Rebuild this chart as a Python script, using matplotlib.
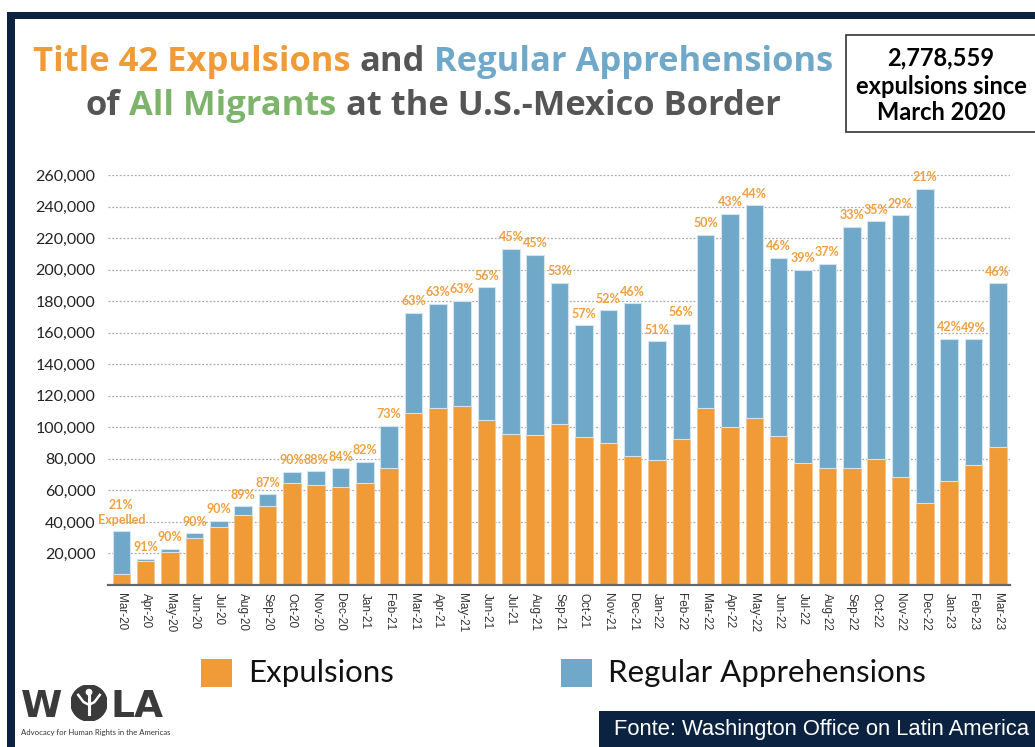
import matplotlib
matplotlib.use("Agg")
import matplotlib.pyplot as plt
from matplotlib.patches import Rectangle, Circle

# monthly CBP figures, Mar 2020 - Mar 2023
months = ["Mar-20", "Apr-20", "May-20", "Jun-20", "Jul-20", "Aug-20", "Sep-20",
          "Oct-20", "Nov-20", "Dec-20", "Jan-21", "Feb-21", "Mar-21", "Apr-21",
          "May-21", "Jun-21", "Jul-21", "Aug-21", "Sep-21", "Oct-21", "Nov-21",
          "Dec-21", "Jan-22", "Feb-22", "Mar-22", "Apr-22", "May-22", "Jun-22",
          "Jul-22", "Aug-22", "Sep-22", "Oct-22", "Nov-22", "Dec-22", "Jan-23",
          "Feb-23", "Mar-23"]
expulsions = [7280, 15300, 20800, 29500, 36700, 44400, 50000,
              64700, 63300, 62200, 64400, 73900, 109100, 112500,
              113400, 104900, 96000, 95200, 102400, 94100, 90100,
              82100, 79000, 92900, 112100, 100300, 105800, 94800,
              77500, 74500, 74500, 80000, 68800, 51700, 66100,
              75800, 87600]
regular = [26750, 1500, 2300, 3300, 4100, 5500, 7500,
           7200, 8700, 11700, 13900, 27200, 63700, 65800,
           67000, 83900, 117300, 114300, 89400, 70500, 84200,
           96600, 75500, 72700, 110100, 135200, 135100, 112600,
           122300, 129100, 152700, 150600, 165600, 199600, 90000,
           79900, 103800]
yticks = list(range(20000, 260001, 20000))
total_expelled = "2,778,559"

ORANGE = "#F09A38"
BLUE = "#6FA8C8"
GREEN = "#7DB46C"
GRAY = "#555555"
NAVY = "#0B2340"
LABEL = "#F0A040"

W, H = 1035, 747
fig = plt.figure(figsize=(W / 100, H / 100), dpi=100)
fig.patch.set_facecolor("white")


def fx(x):
    return x / W


def fy(y):
    return 1 - y / H


# navy frame on the top and left edges
fig.add_artist(Rectangle((fx(7), fy(19)), fx(W - 7), 7 / H, transform=fig.transFigure,
                         color=NAVY, lw=0))
fig.add_artist(Rectangle((fx(7), 0), 8 / W, fy(12), transform=fig.transFigure,
                         color=NAVY, lw=0))

# --- bars ---
ax = fig.add_axes([fx(108), fy(585), fx(1010) - fx(108), fy(175) - fy(585)])
x = list(range(len(months)))
ax.bar(x, expulsions, width=0.72, color=ORANGE, edgecolor="#F5C48C", lw=0.6, zorder=3)
ax.bar(x, regular, bottom=expulsions, width=0.72, color=BLUE, edgecolor="#D3E4EE",
       lw=0.8, zorder=3)

for i, (e, r) in enumerate(zip(expulsions, regular)):
    pct = "%d%%" % round(100 * e / (e + r))
    if i == 0:
        pct += "\nExpelled"
    ax.annotate(pct, (i, e + r), xytext=(0, 4), textcoords="offset points",
                ha="center", va="bottom", color=LABEL, fontsize=9,
                fontweight="bold", family="Lato", linespacing=1.3,
                annotation_clip=False)

ax.set_xlim(-0.55, len(months) - 0.5)
ax.set_ylim(0, 260000)
ax.set_yticks(yticks)
ax.set_yticklabels(["{:,}".format(v) for v in yticks], family="Lato", fontsize=11.5,
                   color="#222222")
ax.set_xticks(x)
ax.set_xticklabels(months, rotation=270, family="Liberation Sans", fontsize=8.5,
                   color="#333333", ha="center", va="top")
ax.tick_params(axis="both", length=0)
ax.tick_params(axis="y", pad=9)
ax.tick_params(axis="x", pad=6)
ax.grid(axis="y", color="#AAAAAA", lw=0.9, ls=(0, (1.5, 1.5)), zorder=0)
for s in ("top", "right", "left"):
    ax.spines[s].set_visible(False)
ax.spines["bottom"].set_color("#666666")
ax.spines["bottom"].set_linewidth(1.6)
ax.spines["bottom"].set_zorder(4)

# --- title in coloured pieces ---
renderer = fig.canvas.get_renderer()
TITLE_FONT = "Open Sans"


def piece_widths(pieces, size):
    texts = [fig.text(0, 0, s, fontsize=size, fontweight="bold", family=TITLE_FONT)
             for s, c in pieces]
    a = fig.text(0, 0, "a a", fontsize=size, fontweight="bold", family=TITLE_FONT)
    b = fig.text(0, 0, "aa", fontsize=size, fontweight="bold", family=TITLE_FONT)
    gap = a.get_window_extent(renderer).width - b.get_window_extent(renderer).width
    widths = [t.get_window_extent(renderer).width for t in texts]
    for t in texts + [a, b]:
        t.remove()
    return widths, gap


def title_line(pieces, cx, y, size):
    widths, gap = piece_widths(pieces, size)
    pos = cx - (sum(widths) + gap * (len(pieces) - 1)) / 2
    for (s, c), w in zip(pieces, widths):
        fig.text(fx(pos), fy(y), s, color=c, fontsize=size, fontweight="bold",
                 family=TITLE_FONT, va="baseline", ha="left")
        pos += w + gap


line1 = [("Title 42 Expulsions", ORANGE), ("and", GRAY), ("Regular Apprehensions", BLUE)]
line2 = [("of", GRAY), ("All Migrants", GREEN), ("at the U.S.-Mexico Border", GRAY)]
w1, g1 = piece_widths(line1, 20)
title_size = 20 * 797 / (sum(w1) + 2 * g1)
title_line(line1, 433, 71, title_size)
title_line(line2, 433, 115, title_size)

# total box, top right
fig.add_artist(Rectangle((fx(846), fy(132)), fx(W - 846) + 0.01, 97 / H,
                         transform=fig.transFigure, facecolor="white",
                         edgecolor="#333333", lw=1.2, clip_on=False))
for txt, yy in [(total_expelled, 58), ("expulsions since", 86), ("March 2020", 113)]:
    fig.text(fx(941), fy(yy), txt, ha="center", va="center", fontsize=17,
             fontweight="bold", family="Lato", color="black")

# --- legend ---
for sx, col, label in [(201, ORANGE, "Expulsions"), (561, BLUE, "Regular Apprehensions")]:
    fig.add_artist(Rectangle((fx(sx), fy(687)), 31 / W, 28 / H,
                             transform=fig.transFigure, color=col, lw=0))
    fig.text(fx(sx + 47), fy(673), label, ha="left", va="center", fontsize=22.5,
             family="Lato", color="#111111")

# --- WOLA logo ---
LOGO = "#3A3A3A"
fig.text(fx(21), fy(717), "W", ha="left", va="baseline", fontsize=27,
         fontweight="bold", family="DejaVu Sans", color=LOGO)
logo_ax = fig.add_axes([fx(71), fy(721), 36 / W, 36 / H])
logo_ax.set_xlim(-1, 1)
logo_ax.set_ylim(-1, 1)
logo_ax.set_aspect("equal")
logo_ax.axis("off")
logo_ax.add_patch(Circle((0, 0), 1.0, color=LOGO))
logo_ax.plot([0, 0], [-0.6, 0.45], color="white", lw=2.2)
logo_ax.plot([-0.6, -0.3, 0, 0.3, 0.6], [0.45, 0.05, -0.1, 0.05, 0.45], color="white", lw=1.8)
logo_ax.add_patch(Circle((0, 0.6), 0.15, color="white"))
fig.text(fx(110), fy(717), "LA", ha="left", va="baseline", fontsize=27,
         fontweight="bold", family="DejaVu Sans", color=LOGO)
fig.text(fx(21), fy(733), "Advocacy for Human Rights in the Americas", ha="left",
         va="center", fontsize=5.6, family="Lato", color="#333333")

# --- source footer ---
fig.add_artist(Rectangle((fx(599), 0), fx(W - 599) + 0.01, 36 / H,
                         transform=fig.transFigure, color=NAVY, lw=0))
fig.text(fx(614), fy(729), "Fonte: Washington Office on Latin America", ha="left",
         va="center", fontsize=15.8, color="white", family="Liberation Sans")

fig.savefig("out.png", dpi=100)
